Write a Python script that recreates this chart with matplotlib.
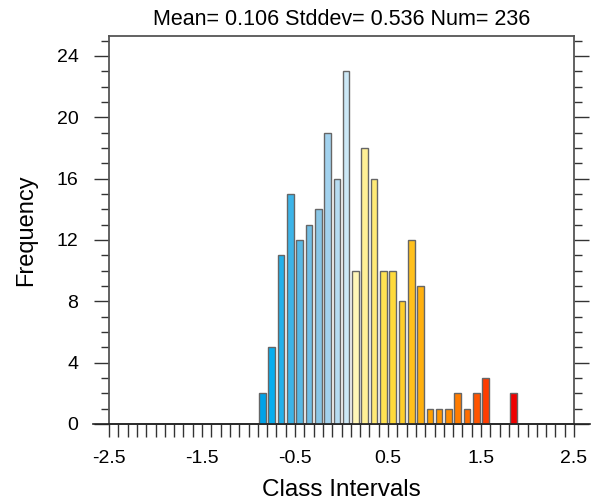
import numpy as np
import matplotlib
matplotlib.use("Agg")
import matplotlib.pyplot as plt
from matplotlib.ticker import MultipleLocator, FixedLocator
from matplotlib.lines import Line2D

plt.rcParams["font.family"] = ["Liberation Sans", "DejaVu Sans"]

# class interval centres (bin width 0.1) and counts per interval
bin_centers = [-0.85, -0.75, -0.65, -0.55, -0.45, -0.35, -0.25, -0.15, -0.05,
               0.05, 0.15, 0.25, 0.35, 0.45, 0.55, 0.65, 0.75, 0.85, 0.95,
               1.05, 1.15, 1.25, 1.35, 1.45, 1.55, 1.65, 1.75, 1.85]
counts = [2, 5, 11, 15, 12, 13, 14, 19, 16, 23, 10, 18, 16, 10, 10, 8, 12, 9,
          1, 1, 1, 2, 1, 2, 3, 0, 0, 2]
bar_colors = ["#00a2e8", "#08adee", "#22b0ea", "#3cb4e8", "#58b8e4", "#72bee4",
              "#8ac6e6", "#a2d2ee", "#b6dcf2", "#cce8f6",
              "#fff6b8", "#fff096", "#ffea76", "#ffe252", "#ffda3a", "#ffce2a",
              "#ffc01c", "#ffb00e", "#ffa000", "#ff9600", "#ff8c00", "#ff7c00",
              "#ff6c00", "#ff5400", "#ff3c00", "#ff2800", "#ff1400", "#ee0000"]
x_labels = [-2.5, -1.5, -0.5, 0.5, 1.5, 2.5]
mean_v, std_v, num_v = 0.106, 0.536, 236

fig = plt.figure(figsize=(5.91, 5.01), dpi=100)
ax = fig.add_axes([109/591, 1-424/501, (574-109)/591, (424-36)/501])

ax.bar(bin_centers, counts, width=0.07, color=bar_colors,
       edgecolor="#666666", linewidth=1.0, zorder=3)

ax.set_xlim(-2.5, 2.5)
ax.set_ylim(0, max(counts)*1.1)

ax.xaxis.set_major_locator(FixedLocator(x_labels))
ax.xaxis.set_minor_locator(MultipleLocator(0.1))
ax.set_xticklabels([f"{v:g}" for v in x_labels])
ax.yaxis.set_major_locator(MultipleLocator(4))
ax.yaxis.set_minor_locator(MultipleLocator(1))

ax.tick_params(axis="x", which="both", direction="out", length=9.4, width=1.0,
               color="#333333", top=False, labelsize=14, pad=9)
ax.tick_params(axis="y", which="major", direction="out", length=11, width=1.0,
               color="#333333", left=True, right=True, labelsize=14, pad=11)
ax.tick_params(axis="y", which="minor", direction="out", length=5.8, width=1.0,
               color="#333333", left=True, right=True)

for s in ax.spines.values():
    s.set_color("#555555")
    s.set_linewidth(1.3)

# baseline runs a little past the frame on both sides
fig.add_artist(Line2D([93/591, 590/591], [1-424/501, 1-424/501],
                      color="#222222", lw=1.2, transform=fig.transFigure))

ax.set_title(f"Mean= {mean_v:.3f} Stddev= {std_v:.3f} Num= {num_v}",
             fontsize=15.5, pad=8)
ax.set_xlabel("Class Intervals", fontsize=17.5, labelpad=9)
ax.set_ylabel("Frequency", fontsize=17, labelpad=14)

fig.savefig("out.png", dpi=100)
